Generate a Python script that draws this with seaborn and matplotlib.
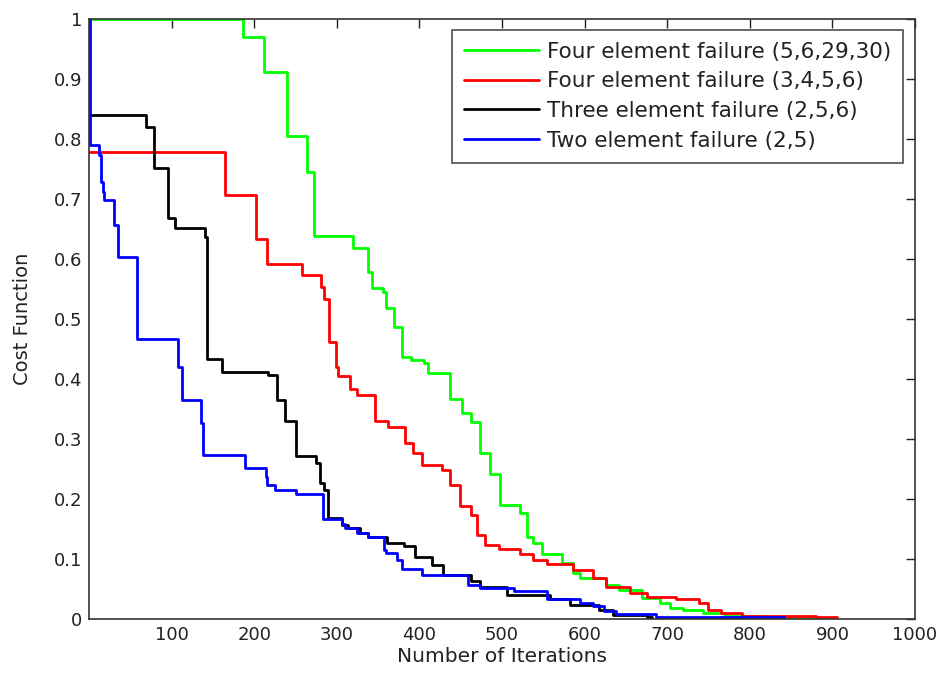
import numpy as np
import pandas as pd
import matplotlib
matplotlib.use("Agg")
import matplotlib.pyplot as plt
import seaborn as sns

# Best cost per iteration for each failure scenario (step-wise convergence curves)
green_it = [0, 187, 212, 240, 264, 273, 320, 338, 343, 356, 359, 369, 379, 390, 405, 411,
            437, 452, 463, 473, 485, 497, 522, 530, 538, 548, 573, 586, 594, 626, 642,
            670, 691, 703, 719, 743, 770, 820, 884]
green_cost = [1.0, 0.97, 0.912, 0.805, 0.745, 0.639, 0.618, 0.579, 0.552, 0.545, 0.518,
              0.487, 0.437, 0.432, 0.427, 0.41, 0.367, 0.343, 0.329, 0.277, 0.242, 0.19,
              0.177, 0.136, 0.126, 0.108, 0.093, 0.076, 0.068, 0.057, 0.048, 0.035,
              0.027, 0.018, 0.015, 0.01, 0.005, 0.003, 0.003]

red_it = [0, 165, 202, 216, 258, 281, 285, 290, 299, 302, 316, 324, 346, 362, 383, 392,
          403, 427, 437, 449, 463, 470, 479, 496, 522, 538, 554, 586, 610, 626, 655, 675,
          711, 739, 749, 765, 791, 880, 905]
red_cost = [0.779, 0.707, 0.633, 0.591, 0.574, 0.554, 0.533, 0.462, 0.42, 0.405, 0.384,
            0.373, 0.33, 0.32, 0.293, 0.276, 0.257, 0.248, 0.223, 0.188, 0.173, 0.14,
            0.123, 0.116, 0.109, 0.098, 0.091, 0.082, 0.069, 0.054, 0.043, 0.037, 0.033,
            0.026, 0.015, 0.01, 0.005, 0.003, 0.003]

black_it = [0, 69, 79, 96, 104, 140, 143, 161, 217, 228, 237, 250, 275, 280, 285, 289,
            306, 314, 328, 338, 361, 381, 395, 415, 429, 463, 473, 506, 558, 582, 618,
            634, 675, 682]
black_cost = [0.84, 0.82, 0.751, 0.668, 0.651, 0.636, 0.433, 0.412, 0.407, 0.365, 0.33,
              0.272, 0.26, 0.227, 0.215, 0.169, 0.157, 0.151, 0.144, 0.137, 0.127, 0.121,
              0.104, 0.09, 0.073, 0.063, 0.054, 0.04, 0.034, 0.023, 0.015, 0.007, 0.003,
              0.003]

blue_it = [0, 1, 12, 14.5, 17, 18.5, 30.6, 34.7, 58, 108, 113, 136, 138, 189, 214, 216,
           225, 251, 283, 306, 310, 324, 338, 357, 360, 373, 379, 403, 459, 473, 514, 554,
           594, 610, 624, 638, 687, 842]
blue_cost = [1.0, 0.79, 0.773, 0.729, 0.712, 0.698, 0.657, 0.603, 0.467, 0.42, 0.365,
             0.327, 0.274, 0.251, 0.237, 0.224, 0.215, 0.209, 0.166, 0.158, 0.152, 0.144,
             0.136, 0.115, 0.11, 0.098, 0.084, 0.073, 0.057, 0.051, 0.046, 0.034, 0.026,
             0.021, 0.014, 0.008, 0.004, 0.004]

labels = ["Four element failure (5,6,29,30)",
          "Four element failure (3,4,5,6)",
          "Three element failure (2,5,6)",
          "Two element failure (2,5)"]
colors = ["#00ff00", "#ff0000", "#000000", "#0000ff"]

frames = []
for lab, it, cost in zip(labels, [green_it, red_it, black_it, blue_it],
                         [green_cost, red_cost, black_cost, blue_cost]):
    frames.append(pd.DataFrame({"Iteration": it, "Cost": cost, "Scenario": lab}))
df = pd.concat(frames, ignore_index=True)

sns.set_style("white")
plt.rcParams["font.family"] = ["DejaVu Sans"]

fig = plt.figure(figsize=(9.41, 6.77), dpi=100)
ax = fig.add_axes([89 / 941, 58 / 677, 826 / 941, 600 / 677])

for lab, col in zip(labels, colors):
    sub = df[df["Scenario"] == lab]
    sns.lineplot(data=sub, x="Iteration", y="Cost", ax=ax, color=col, label=lab,
                 drawstyle="steps-post", estimator=None, sort=False, linewidth=2.0)

ax.set_xlim(0, 1000)
ax.set_ylim(0, 1)
ax.set_xticks(np.arange(100, 1001, 100))
ax.set_xticklabels([str(v) for v in range(100, 1001, 100)])
yt = np.round(np.arange(0, 1.01, 0.1), 1)
ax.set_yticks(yt)
ax.set_yticklabels(["0" if v == 0 else ("1" if v == 1 else f"{v:.1f}") for v in yt])

ax.tick_params(direction="in", length=6.5, width=1.0, top=True, right=True,
               labelsize=13, colors="#222222", pad=5)
for s in ax.spines.values():
    s.set_visible(True)
    s.set_color("#333333")
    s.set_linewidth(1.2)

ax.set_xlabel("Number of Iterations", fontsize=14.5, color="#222222", labelpad=2)
ax.set_ylabel("Cost Function", fontsize=14, color="#222222")
ax.yaxis.set_label_coords(-0.069, 0.5)

leg = ax.legend(loc="upper right", bbox_to_anchor=(0.9855, 0.982), fontsize=15.5,
                frameon=True, fancybox=False, edgecolor="#222222",
                handlelength=3.5, handletextpad=0.35, labelspacing=0.45,
                borderpad=0.55, borderaxespad=0)
leg.get_frame().set_linewidth(1.2)
for t in leg.get_texts():
    t.set_color("#222222")

fig.savefig("out.png", dpi=100, facecolor="white")
